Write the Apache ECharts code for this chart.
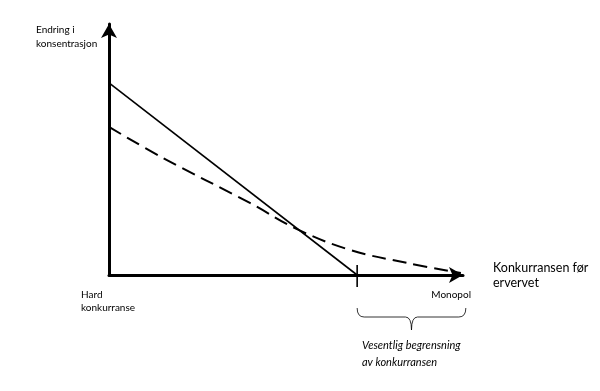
<!DOCTYPE html>
<html><head><meta charset="utf-8">
<script src="https://cdn.jsdelivr.net/npm/echarts@6/dist/echarts.min.js"></script>
<style>html,body{margin:0;padding:0;background:#fff}#c{width:600px;height:391px}</style>
</head><body><div id="c"></div>
<script>
// Data (arbitrary units, x: 0..100, y: 0..100)
const solidLine = [[0, 76.5], [70.1, 0]];
const dashedCurve = [[0, 59.0], [15.3, 46.6], [39.8, 28.7], [53.1, 18.3], [68.1, 10.0], [84.2, 4.8], [99.4, 0.8]];
const tickX = 70.1;
const braceRange = [70.1, 100.8];
const yAxisLabel = 'Endring i\nkonsentrasjon';
const xAxisLabel = 'Konkurransen før\nervervet';
const leftLabel = 'Hard\nkonkurranse';
const rightLabel = 'Monopol';
const braceLabel = 'Vesentlig begrensning\nav konkurransen';

const chart = echarts.init(document.getElementById('c'), null, {renderer: 'canvas'});
const font = 'Lato, "Open Sans", sans-serif';
const axisLine = {show: true, lineStyle: {color: '#000', width: 3}, symbol: ['none', 'arrow'], symbolSize: [12, 14], symbolOffset: [0, 0]};
chart.setOption({
  animation: false,
  grid: {left: 109, right: 137, top: 24, bottom: 116},
  xAxis: {type: 'value', min: 0, max: 100, axisLine: axisLine,
    axisTick: {show: false}, axisLabel: {show: false}, splitLine: {show: false}},
  yAxis: {type: 'value', min: 0, max: 100, axisLine: axisLine,
    axisTick: {show: false}, axisLabel: {show: false}, splitLine: {show: false}},
  series: [
    {type: 'line', data: solidLine, showSymbol: false, lineStyle: {color: '#000', width: 1.6}},
    {type: 'line', data: dashedCurve, smooth: 0.4, showSymbol: false, lineStyle: {color: '#000', width: 2, type: [14, 7]}}
  ]
});

const p = (x, y) => chart.convertToPixel({gridIndex: 0}, [x, y]);
const tk = p(tickX, 0);
const b0 = p(braceRange[0], 0)[0], b1 = p(braceRange[1], 0)[0];
const bt = tk[1] + 33, bh = bt + 9, bp = bt + 22, bm = (b0 + b1) / 2;
const bs = {stroke: '#000', lineWidth: 0.8, fill: null};
chart.setOption({
  graphic: [
    {type: 'line', shape: {x1: tk[0], y1: tk[1] - 10, x2: tk[0], y2: tk[1] + 12}, style: {stroke: '#000', lineWidth: 1.6}},
    {type: 'bezierCurve', shape: {x1: b0, y1: bt, x2: b0 + 7, y2: bh, cpx1: b0, cpy1: bh}, style: bs},
    {type: 'line', shape: {x1: b0 + 7, y1: bh, x2: bm - 6, y2: bh}, style: bs},
    {type: 'bezierCurve', shape: {x1: bm - 6, y1: bh, x2: bm, y2: bp, cpx1: bm, cpy1: bh}, style: bs},
    {type: 'bezierCurve', shape: {x1: bm + 6, y1: bh, x2: bm, y2: bp, cpx1: bm, cpy1: bh}, style: bs},
    {type: 'line', shape: {x1: bm + 6, y1: bh, x2: b1 - 7, y2: bh}, style: bs},
    {type: 'bezierCurve', shape: {x1: b1, y1: bt, x2: b1 - 7, y2: bh, cpx1: b1, cpy1: bh}, style: bs},
    {type: 'text', x: 36, y: 23, style: {text: yAxisLabel, font: '10px ' + font, fill: '#000', lineHeight: 14, verticalAlign: 'top'}},
    {type: 'text', x: 81, y: 288.5, style: {text: leftLabel, font: '10px ' + font, fill: '#000', lineHeight: 13, verticalAlign: 'top'}},
    {type: 'text', x: 471, y: 295, style: {text: rightLabel, font: '10px ' + font, fill: '#000', align: 'right', verticalAlign: 'middle'}},
    {type: 'text', x: 493, y: 260.5, style: {text: xAxisLabel, font: '12.5px ' + font, fill: '#000', lineHeight: 15, verticalAlign: 'top'}},
    {type: 'text', x: 362, y: 336.5, style: {text: braceLabel, font: 'italic 11px ' + font, fill: '#000', lineHeight: 17, verticalAlign: 'top'}}
  ]
});
</script></body></html>
